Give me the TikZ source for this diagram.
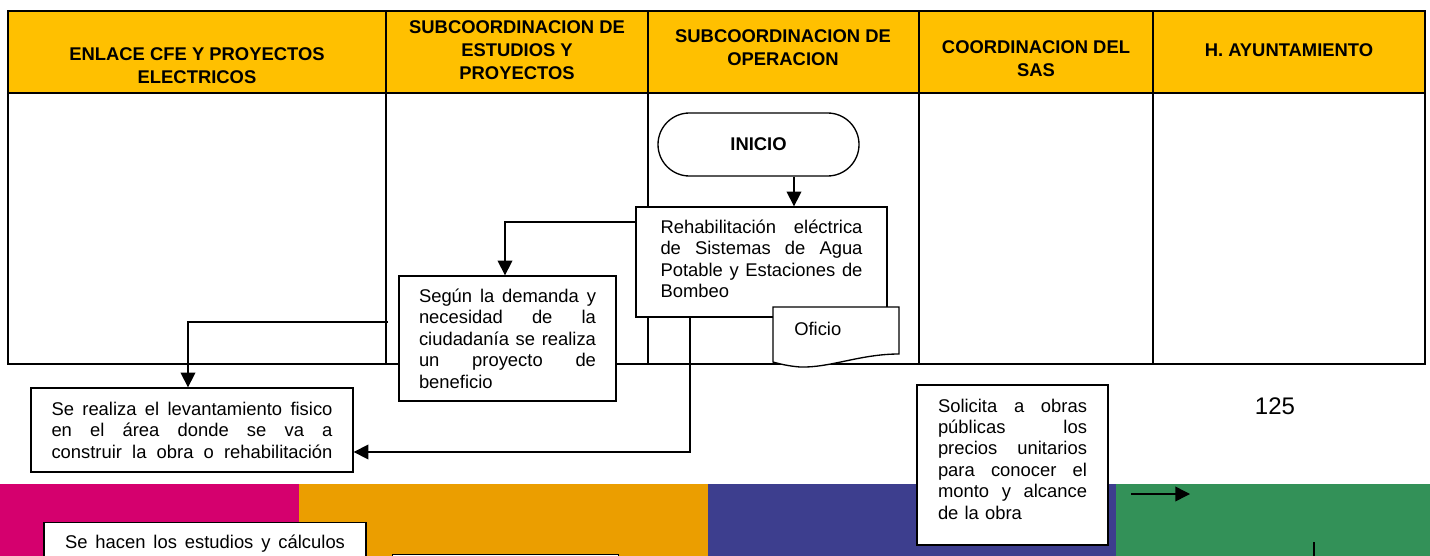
\documentclass[tikz,border=0pt]{standalone}
\usepackage{fontspec}
\setmainfont{Liberation Sans}
\usetikzlibrary{arrows.meta,calc}
\newcommand{\jl}[1]{\makebox[\linewidth][s]{\spaceskip=\fontdimen2\font plus 1fil\relax #1}}
\newcommand{\myBody}{\fontsize{13.8pt}{16.1pt}\selectfont}
\newcommand{\myHead}{\bfseries\fontsize{13.8pt}{17.25pt}\selectfont}
\definecolor{hdrfill}{HTML}{FFC000}
\definecolor{bmag}{HTML}{D5006E}
\definecolor{bora}{HTML}{EB9E00}
\definecolor{bblu}{HTML}{3D3E8E}
\definecolor{bgrn}{HTML}{339158}
\begin{document}
\begin{tikzpicture}[x=0.75pt,y=-0.75pt,
  tline/.style={line width=1.4pt},
  box/.style={draw, line width=1pt, fill=white, inner sep=0pt, align=left, font=\myBody},
  hdr/.style={align=center, font=\myHead, inner sep=0pt},
  conn/.style={line width=1.1pt, -{Triangle[length=11pt,width=11pt]}},
  plain/.style={line width=1.1pt}]
\clip (0,0) rectangle (1430,556);
% bottom colour band
\fill[bmag] (0,484) rectangle (299,556);
\fill[bora] (299,484) rectangle (708,556);
\fill[bblu] (708,484) rectangle (1116,556);
\fill[bgrn] (1116,484) rectangle (1430,556);
% swimlane table
\fill[hdrfill] (8,11) rectangle (1425,93);
\draw[tline] (8,11) rectangle (1425,364);
\draw[tline] (8,93) -- (1425,93);
\foreach \x in {386,648,919,1153} \draw[tline] (\x,11) -- (\x,364);
% headers
\node[hdr] (h1) at (197,66) {ENLACE CFE Y PROYECTOS\\ELECTRICOS};
\node[hdr] (h2) at (517,50.5) {SUBCOORDINACION DE\\ESTUDIOS Y\\PROYECTOS};
\node[hdr] (h3) at (783,48) {SUBCOORDINACION DE\\OPERACION};
\node[hdr] (h4) at (1036,59) {COORDINACION DEL\\SAS};
\node[hdr] (h5) at (1289,50) {H. AYUNTAMIENTO};
% flow nodes
\node[draw, line width=1pt, fill=white, rounded corners=23.6pt, minimum width=150.75pt,
  minimum height=47.25pt, inner sep=0pt, font=\bfseries\myBody] (inicio) at (758.5,144.5) {INICIO};
\node[box, text width=151.5pt, minimum width=188.25pt, minimum height=82.5pt] (rehab) at (761.5,262)
  {\jl{Rehabilitación eléctrica}\\\jl{de Sistemas de Agua}\\\jl{Potable y Estaciones de}\\Bombeo\rule[-5pt]{0pt}{0pt}};
\node[box, text width=132.75pt, minimum width=162.75pt, minimum height=93.75pt] (seg) at (507.5,338.5)
  {\jl{Según la demanda y}\\\jl{necesidad de la}\\\jl{ciudadanía se realiza}\\\jl{un proyecto de}\\beneficio};
\node[box, text width=210.75pt, minimum width=241.5pt, minimum height=63pt] (realiza) at (192,430)
  {\jl{Se realiza el levantamiento fisico}\\\jl{en el área donde se va a}\\\jl{construir la obra o rehabilitación}};
\node[box, text width=111.75pt, minimum width=143.25pt, minimum height=120pt] (solicita) at (1012.5,465)
  {\jl{Solicita a obras}\\\jl{públicas los}\\\jl{precios unitarios}\\\jl{para conocer el}\\\jl{monto y alcance}\\de la obra\rule[-9pt]{0pt}{0pt}};
\node[box, anchor=north, text width=210pt, minimum width=241.5pt, inner ysep=9pt] (hacen) at (205,522)
  {\jl{Se hacen los estudios y cálculos}\rule[-40pt]{0pt}{0pt}};
\node[box, anchor=north west, minimum width=169.5pt, minimum height=30pt] (nextbox) at (392,554) {};
% document "Oficio"
\path[draw, line width=1pt, fill=white] (773,307) -- (899,307) -- (899,354)
  .. controls (860,354) and (830,368) .. (800,367) .. controls (788,366) and (780,364) .. (773,362) -- cycle;
\node[anchor=west, inner sep=0pt, font=\myBody] (oficio) at (794,329) {Oficio};
% page number
\node[font=\fontsize{18pt}{20pt}\selectfont] (pg) at (1275,406) {125};
% helper coordinates
\coordinate (kx188) at (188,0);
\coordinate (kx505) at (505,0);
\coordinate (kx690) at (690,0);
\coordinate (kx794) at (794,0);
\coordinate (ky222) at (0,222);
\coordinate (ky452) at (0,452);
\coordinate (segout) at (388,322);
\coordinate (a1) at (1131,494);
\coordinate (a2) at (1190,494);
\coordinate (v1) at (1314,542);
\coordinate (v2) at (1314,570);
% connectors
\draw[conn] (inicio.south -| kx794) -- (rehab.north -| kx794);
\draw[conn] (rehab.west |- ky222) -| (seg.north -| kx505);
\draw[conn] (segout) -| (realiza.north -| kx188);
\draw[conn] (rehab.south -| kx690) |- (realiza.east |- ky452);
\draw[conn] (a1) -- (a2);
\draw[plain] (v1) -- (v2);
\end{tikzpicture}
\end{document}
